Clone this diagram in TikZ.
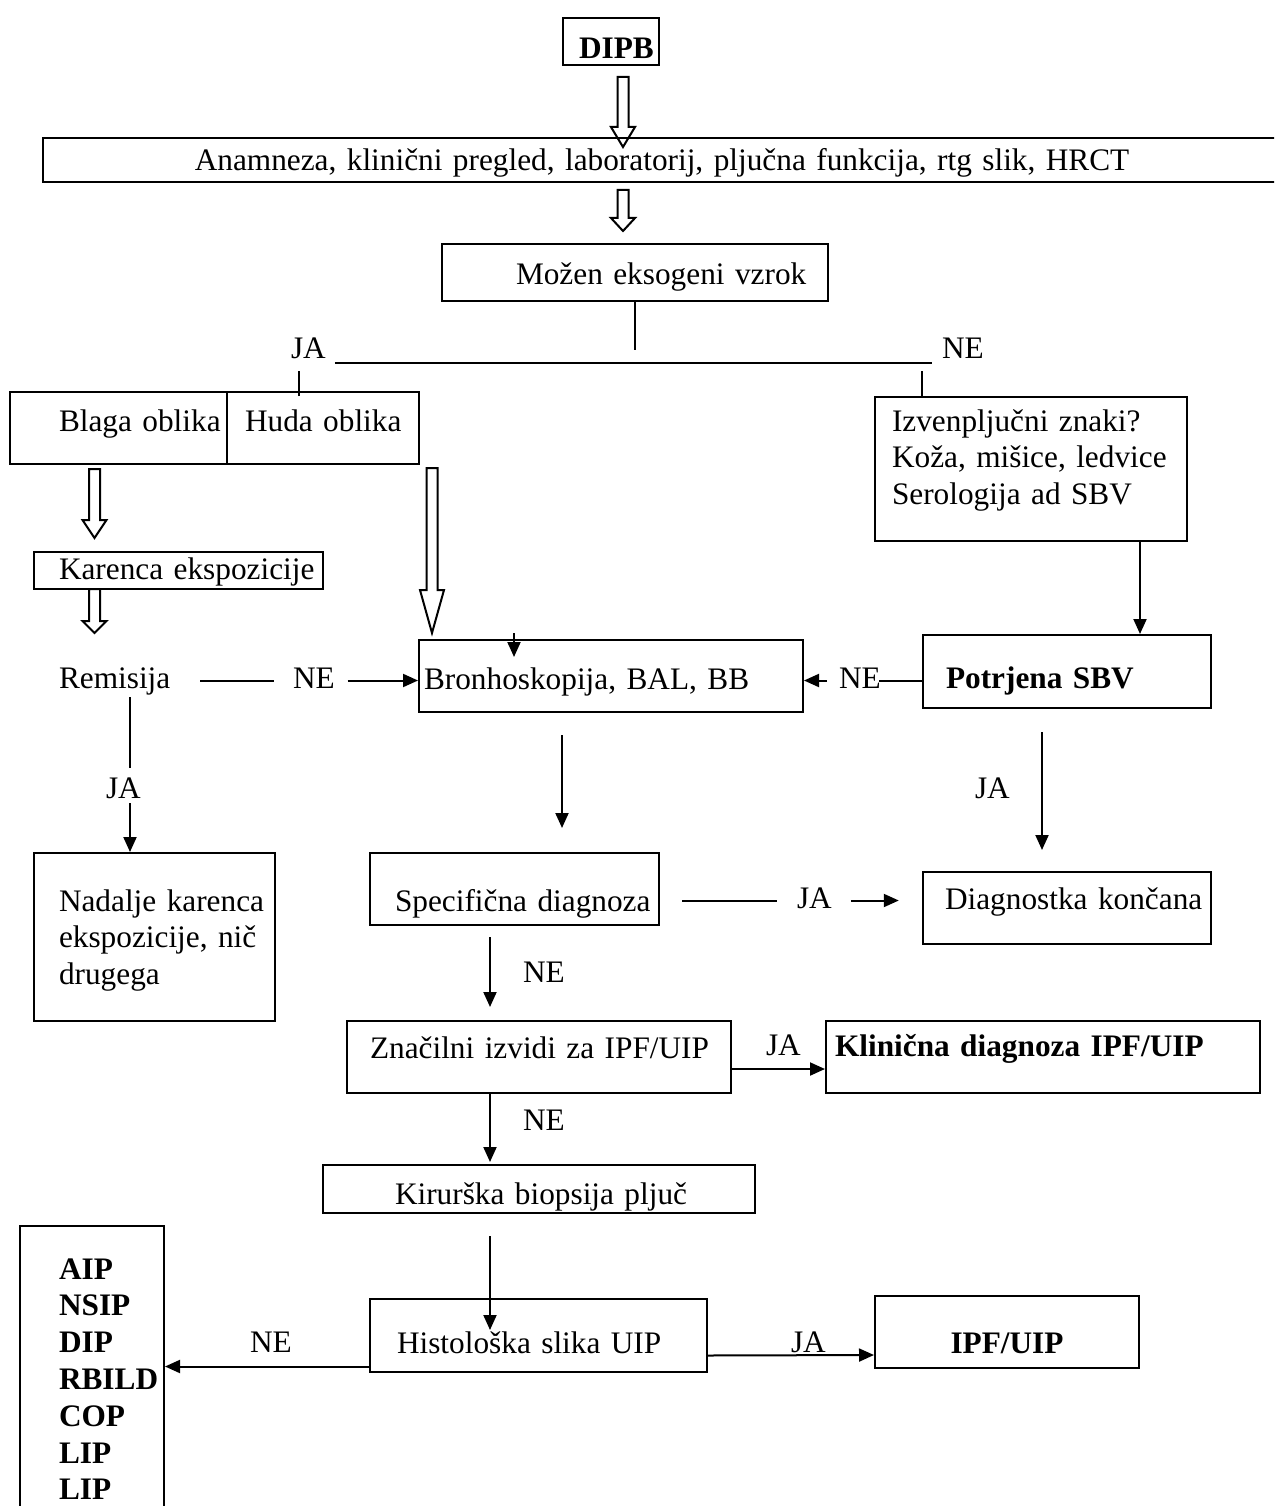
\documentclass[tikz,border=0pt]{standalone}
\usepackage{fontspec}
\setmainfont{Liberation Serif}
\usetikzlibrary{arrows.meta, positioning, calc}
\newcommand\chartfont{\fontsize{31.3pt}{36.8pt}\selectfont}

\begin{document}
\begin{tikzpicture}[x=1pt, y=-1pt, line width=2pt, font=\chartfont,
  box/.style={draw, anchor=north west, inner sep=0pt, align=left},
  dims/.style n args={3}{text width=#1pt, text height=#2pt, text depth=#3pt},
  lpad/.style={execute at begin node={\leftskip=#1pt\rightskip=-40pt plus 1fil\relax}},
  bold/.style={font=\chartfont\bfseries},
  lbl/.style={inner sep=0pt, anchor=base west, text height=22pt, text depth=7pt},
  arr/.style={-{Triangle[length=15pt, width=13pt]}},
  hollow/.style 2 args={to path={let \p1=(\tikztostart), \p2=(\tikztotarget) in
      (\x1-5.5pt,\y1) -- (\x1+5.5pt,\y1) -- (\x1+5.5pt,{\y2-(#2pt)+(#1pt)})
      -- (\x1+12pt,{\y2-(#2pt)+(#1pt)}) -- (\x1,{\y2-(#2pt)})
      -- (\x1-12pt,{\y2-(#2pt)+(#1pt)}) -- (\x1-5.5pt,{\y2-(#2pt)+(#1pt)}) -- cycle}}
]
\useasboundingbox (0,0) rectangle (1274,1506);
\clip (0,0) rectangle (1274,1506);
%% TOP
\node[box, bold, dims={96}{41}{6}, lpad=16] (dipb) at (562,17) {DIPB};
\node[box, align=center, dims={1238}{33}{11}] (anam) at (42,137)
  {Anamneza, klinični pregled, laboratorij, pljučna funkcija, rtg slik, HRCT};
\node[box, dims={386}{40}{17}, lpad=74] (mozen) at (441,243) {Možen eksogeni vzrok};
\draw[hollow={20}{10}] ([xshift=12pt,yshift=-11pt]dipb.south) to (anam.north);
\draw[hollow={13}{-12}] ([xshift=-39pt,yshift=-7pt]anam.south) to (mozen.north);
%% BRANCH
\node[lbl] (ja1) at (290,358) {JA};
\node[lbl] (ne1) at (941,358) {NE};
\draw (mozen.south) -- ++(0,48);
\draw ([xshift=8pt,yshift=-5pt]ja1.base east) -- ([xshift=-9pt,yshift=-5pt]ne1.base west);
\node[box, dims={217}{39}{33}, lpad=49] (blaga) at (9,391) {Blaga oblika};
\node[box, dims={192}{39}{33}, lpad=18] (huda) at (226,391) {Huda oblika};
\node[box, dims={312}{34}{110}, lpad=17] (izven) at (874,396)
  {Izvenpljučni znaki?\\Koža, mišice, ledvice\\Serologija ad SBV};
\draw ([xshift=73pt,yshift=-5pt]huda.north west) -- ++(0,-25);
\draw ([xshift=48pt]izven.north west) -- ++(0,-25);
%% LEFT
\node[box, dims={289}{27}{10}, lpad=25] (karenca) at (33,551) {Karenca ekspozicije};
\node[lbl] (rem) at (58,688) {Remisija};
\draw[hollow={18}{-13}] ([xshift=85.5pt,yshift=-4pt]blaga.south west) to (karenca.north);
\draw[hollow={12}{-32}] ([xshift=61.5pt,yshift=1pt]karenca.south west) to (rem.north);
\node[lbl] (ja2) at (105,798) {JA};
\node[box, dims={241}{58}{110}, lpad=25] (nad) at (33,852)
  {Nadalje karenca\\ekspozicije, nič\\drugega};
\draw ([xshift=72pt,yshift=-1pt]rem.south west) -- ++(0,71);
\draw[arr] ([xshift=25pt,yshift=3pt]ja2.south west) -- ([xshift=97pt]nad.north west);
%% MIDDLE
\node[box, dims={384}{49}{23}, lpad=5] (bron) at (418,639) {Bronhoskopija, BAL, BB};
\draw[hollow={43}{-6}] ([xshift=12pt,yshift=-3pt]huda.south east) to (bron.north);
\draw[arr] ([xshift=96pt,yshift=6pt]bron.north west) -- ++(0,24);
\node[lbl] (ne2) at (292,688) {NE};
\draw ([xshift=29pt]rem.east) -- ([xshift=-18pt]ne2.west);
\draw[arr] ([xshift=12pt]ne2.east) -- (ne2.east -| bron.west);
\node[box, dims={289}{58}{14}, lpad=25] (spec) at (369,852) {Specifična diagnoza};
\draw[arr] ([xshift=144pt,yshift=-22pt]bron.south west) -- ([xshift=193pt,yshift=24pt]spec.north west);
\node[lbl] (ne4) at (522,982) {NE};
\node[box, dims={384}{37}{35}, lpad=23] (zn) at (346,1020) {Značilni izvidi za IPF/UIP};
\draw[arr] ([xshift=121pt,yshift=-11pt]spec.south west) -- ([xshift=144pt,yshift=13pt]zn.north west);
\node[lbl] (ne5) at (522,1130) {NE};
\node[box, dims={432}{39}{9}, lpad=72] (kir) at (322,1164) {Kirurška biopsija pljuč};
\draw[arr] ([xshift=144pt]zn.south west) -- ([xshift=168pt,yshift=2pt]kir.north west);
\node[box, dims={337}{54}{19}, lpad=27] (histo) at (369,1298) {Histološka slika UIP};
\draw[arr] ([xshift=168pt,yshift=-22pt]kir.south west) -- ([xshift=121pt,yshift=-32pt]histo.north west);
%% RIGHT
\node[box, bold, dims={288}{53}{20}, lpad=23] (potr) at (922,634) {Potrjena SBV};
\draw[arr] ([xshift=-48pt]izven.south east) -- ([xshift=-72pt]potr.north east);
\node[lbl] (ne3) at (838,688) {NE};
\draw (ne3.east -| potr.west) -- ([xshift=-3pt]ne3.east);
\draw[arr] ([xshift=-11pt]ne3.west) -- (ne3.west -| bron.east);
\node[lbl] (ja3) at (974,798) {JA};
\node[box, dims={288}{37}{35}, lpad=22] (diag) at (922,871) {Diagnostka končana};
\draw[arr] ([xshift=120pt,yshift=-23pt]potr.south west) -- ([xshift=120pt,yshift=21pt]diag.north west);
\node[lbl] (ja4) at (796,908) {JA};
\draw (ja4.west -| spec.east) ++(22,0) -- ([xshift=-19pt]ja4.west);
\draw[arr] ([xshift=18pt]ja4.east) -- ++(48,0);
\node[box, bold, dims={434}{35}{37}, lpad=9] (klin) at (825,1020) {Klinična diagnoza IPF/UIP};
\node[lbl] (ja5) at (765,1055) {JA};
\draw[arr] ([yshift=-12pt]zn.east) -- ([yshift=-12pt]klin.west);
%% BOTTOM
\node[box, bold, dims={144}{53}{252}, lpad=39] (list) at (19,1225)
  {AIP\\NSIP\\DIP\\RBILD\\COP\\LIP\\LIP};
\node[lbl] (ne6) at (249,1352) {NE};
\draw[arr] ([yshift=-31pt]histo.west) -- ([yshift=12pt]list.east);
\node[box, bold, align=center, dims={264}{57}{15}] (ipf) at (874,1295) {IPF/UIP};
\node[lbl] (ja6) at (790,1352) {JA};
\draw[arr] ([yshift=-20pt]histo.east) -- ([yshift=-23pt]ipf.west);
\end{tikzpicture}
\end{document}
